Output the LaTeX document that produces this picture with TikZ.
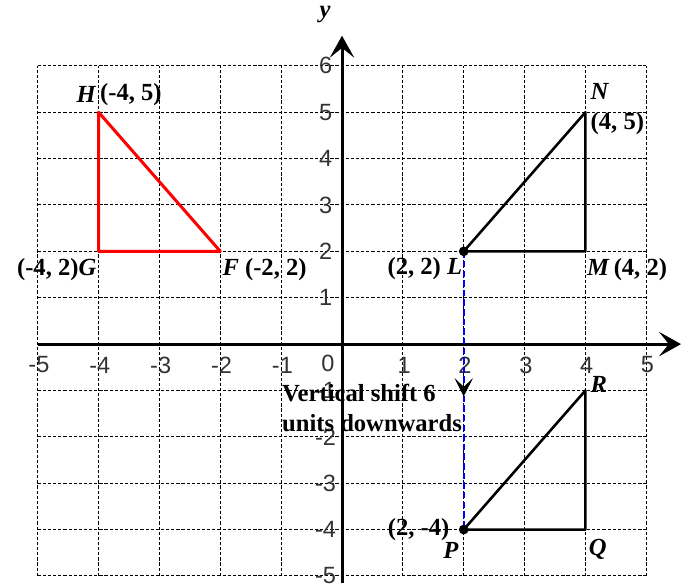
\documentclass[tikz,border=0pt]{standalone}
\usepackage{fontspec}
\setmainfont{Liberation Serif}
\newfontfamily\axisfont{Liberation Sans}
\usetikzlibrary{arrows.meta, positioning}

\begin{document}
\begin{tikzpicture}[
    x=1cm, y=0.762cm,
    gridline/.style={draw=black, line width=0.45pt, dash pattern=on 1.5pt off 0.9pt},
    axis/.style={line width=1.4pt, -{Stealth[length=3.6mm, width=4mm, inset=1.6mm]}},
    redtri/.style={draw=red, line width=1.4pt, line join=round},
    blacktri/.style={draw=black, line width=1.2pt, line join=round},
    shiftline/.style={draw=blue, line width=1.1pt, dash pattern=on 3pt off 1.5pt},
    tick/.style={font=\axisfont\fontsize{11}{12}\selectfont, text=black!80, inner sep=0pt},
    lbl/.style={font=\fontsize{11.5}{14}\selectfont\bfseries, inner sep=0pt},
    dot/.style={circle, fill=black, inner sep=0pt, minimum size=1.6mm}
]
\useasboundingbox (-5.62,-5.16) rectangle (5.57,7.42);

% grid
\foreach \i in {-5,...,5} \draw[gridline] (\i,-5) -- (\i,6);
\foreach \j in {-5,...,6} \draw[gridline] (-5,\j) -- (5,\j);

% axes
\coordinate (xstart) at (-5,0);
\coordinate (xend) at (5.57,0);
\coordinate (ystart) at (0,-5.16);
\coordinate (yend) at (0,6.65);
\draw[axis] (xstart) -- (xend);
\draw[axis] (ystart) -- (yend);
\node[lbl, font=\fontsize{11.5}{14}\selectfont\bfseries\itshape] (ylabel) at (-0.28,7.1) {y};

% tick labels
\foreach \i in {-5,-4,-3,-2,-1,1,2,3,4,5} \node[tick] (xt\i) at (\i+0.02,-0.45) {\i};
\node[tick] (origin) at (-0.23,-0.42) {0};
\foreach \j in {-5,-4,-3,-2,-1,1,2,3,4,5,6} \node[tick] (yt\j) at (-0.27,\j) {\j};

% points
\coordinate (H) at (-4,5);
\coordinate (G) at (-4,2);
\coordinate (F) at (-2,2);
\coordinate (L) at (2,2);
\coordinate (M) at (4,2);
\coordinate (N) at (4,5);
\coordinate (P) at (2,-4);
\coordinate (Q) at (4,-4);
\coordinate (R) at (4,-1);

% vertical shift
\draw[shiftline] (L) -- (P);
\coordinate (arrtop) at (2,-0.7);
\coordinate (arrtip) at (2,-1.13);
\draw[shiftline, -{Stealth[length=3mm, width=3mm, inset=1.4mm, color=black]}] (arrtop) -- (arrtip);

% triangles
\draw[redtri] (H) -- (G) -- (F) -- cycle;
\draw[blacktri] (L) -- (M) -- (N) -- cycle;
\draw[blacktri] (P) -- (Q) -- (R) -- cycle;
\node[dot] (Ldot) at (L) {};
\node[dot] (Pdot) at (P) {};

% labels
\node[lbl, anchor=east] (Hname) at (-4.03,5.39) {\textit{H}};
\node[lbl, anchor=west] (Hcoord) at (-3.98,5.39) {(-4, 5)};
\node[lbl, anchor=east] (Gname) at (-4.03,1.6) {(-4, 2)\textit{G}};
\node[lbl, anchor=west] (Fname) at (-1.97,1.6) {\textit{F} (-2, 2)};
\node[lbl, anchor=west] (Nname) at (4.08,5.44) {\textit{N}};
\node[lbl, anchor=west] (Ncoord) at (4.08,4.75) {(4, 5)};
\node[lbl, anchor=east] (Lname) at (1.98,1.63) {(2, 2) \textit{L}};
\node[lbl, anchor=west] (Mname) at (4.02,1.6) {\textit{M}\,(4, 2)};
\node[lbl, anchor=west] (Rname) at (4.08,-0.87) {\textit{R}};
\node[lbl, anchor=east] (Pcoord) at (1.77,-4.0) {(2, -4)};
\node[lbl, anchor=east] (Pname) at (1.92,-4.45) {\textit{P}};
\node[lbl, anchor=west] (Qname) at (4.05,-4.43) {\textit{Q}};
\node[lbl, anchor=north west, align=left] (shiftlbl) at (-0.99,-0.86) {Vertical shift 6\\units downwards};
\end{tikzpicture}
\end{document}
